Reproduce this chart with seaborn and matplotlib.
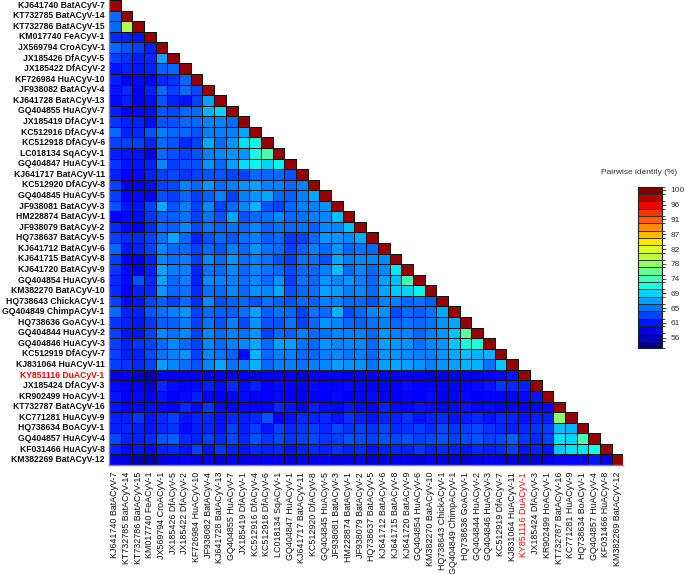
import numpy as np
import pandas as pd
import matplotlib
matplotlib.use("Agg")
import matplotlib.pyplot as plt
import matplotlib.colors as mcolors
import seaborn as sns

# sequence names (rows / columns of the identity matrix)
names = ["KJ641740 BatACyV-7", "KT732785 BatACyV-14", "KT732786 BatACyV-15", "KM017740 FeACyV-1",
         "JX569794 CroACyV-1", "JX185426 DfACyV-5", "JX185422 DfACyV-2", "KF726984 HuACyV-10",
         "JF938082 BatACyV-4", "KJ641728 BatACyV-13", "GQ404855 HuACyV-7", "JX185419 DfACyV-1",
         "KC512916 DfACyV-4", "KC512918 DfACyV-6", "LC018134 SqACyV-1", "GQ404847 HuACyV-1",
         "KJ641717 BatACyV-11", "KC512920 DfACyV-8", "GQ404845 HuACyV-5", "JF938081 BatACyV-3",
         "HM228874 BatACyV-1", "JF938079 BatACyV-2", "HQ738637 BatACyV-5", "KJ641712 BatACyV-6",
         "KJ641715 BatACyV-8", "KJ641720 BatACyV-9", "GQ404854 HuACyV-6", "KM382270 BatACyV-10",
         "HQ738643 ChickACyV-1", "GQ404849 ChimpACyV-1", "HQ738636 GoACyV-1", "GQ404844 HuACyV-2",
         "GQ404846 HuACyV-3", "KC512919 DfACyV-7", "KJ831064 HuACyV-11", "KY851116 DuACyV-1",
         "JX185424 DfACyV-3", "KR902499 HoACyV-1", "KT732787 BatACyV-16", "KC771281 HuACyV-9",
         "HQ738634 BoACyV-1", "GQ404857 HuACyV-4", "KF031466 HuACyV-8", "KM382269 BatACyV-12"]
highlight = "KY851116 DuACyV-1"

# pairwise identity (%), lower triangle, row i holds columns 0..i-1
lower = [
    [],
    [64],
    [64, 80],
    [61, 60.5, 60],
    [64, 63, 62, 60.5],
    [62, 61.5, 60.5, 61, 67],
    [60, 60.5, 60, 60.5, 63.5, 64],
    [60.5, 59, 59.5, 59, 61, 61.5, 64],
    [60, 61, 59, 60.5, 64, 62, 64, 62.5],
    [59.5, 60.5, 59, 59.5, 63, 60.5, 60, 62, 66.5],
    [60.5, 59, 59.5, 59.5, 63, 62.5, 64, 64, 67.5, 69],
    [61.5, 60.5, 60.5, 59.5, 63, 63, 64, 64, 65, 65, 64],
    [64, 60.5, 61, 63, 65, 64, 64, 63, 65, 65, 65, 67],
    [62, 62, 62, 60.5, 64, 63, 61, 62, 67, 64, 66, 69.5, 70.5],
    [60.5, 60, 60, 57.5, 64, 63, 62, 63, 65, 65.5, 66, 66, 71, 74],
    [61.5, 60, 60, 60.5, 65.5, 62, 63, 63, 66, 64, 66.5, 69.5, 70.5, 69, 70.5],
    [60.5, 59, 59.5, 60.5, 62, 62.5, 61.5, 62, 63, 63, 62, 62, 64, 64, 64, 63],
    [62, 57.5, 58.5, 59.5, 62, 62.5, 65, 64, 66, 64, 65, 66, 66.5, 65, 65, 64, 65],
    [62, 59, 59.5, 58.5, 63, 62, 64, 62, 63.5, 65, 62, 65, 66, 67, 64, 63.5, 65, 67],
    [63, 60, 60, 62, 67, 63, 65, 62, 65.5, 62, 64, 65.5, 67.5, 63, 62, 64, 65, 65, 66],
    [59, 59.5, 59.5, 61.5, 63.5, 63.5, 64.5, 62, 64.5, 63, 66.5, 63, 64, 64.5, 65.5, 64, 64.5, 65, 65.5, 68],
    [61, 59.5, 59, 61, 64, 63.5, 65.5, 62.5, 64.5, 63.5, 64.5, 64, 65.5, 63.5, 64.5, 64, 64.5, 63.5, 65.5,
     65.5, 68],
    [62, 61, 61, 62, 64.5, 67, 64, 60.5, 63, 64, 63, 64.5, 65, 63.5, 64, 61.5, 62, 64, 66, 66, 65.5, 67],
    [64, 60, 60.5, 62, 65.5, 64, 64, 62, 64, 63, 65, 64, 66, 64.5, 64, 62, 63.5, 65, 64, 66, 64, 64.5, 64],
    [62, 58.5, 58.5, 60.5, 65.5, 64.5, 65, 62, 65.5, 64, 66, 64.5, 65, 64.5, 63, 62, 64.5, 64.5, 63, 67,
     65, 65.5, 65.5, 65.5],
    [61.5, 59.5, 58, 60.5, 67, 65, 65, 60.5, 64.5, 64, 65.5, 64, 65.5, 64.5, 64, 62.5, 64, 64, 65, 68,
     64, 65.5, 64, 65.5, 70],
    [61, 59.5, 63, 61, 67, 64, 65, 60.5, 65.5, 65, 65, 64.5, 65.5, 64, 66, 62, 64.5, 64, 66, 65.5,
     66, 65, 64, 66.5, 68, 74],
    [61, 59, 60.5, 61, 66, 64, 64.5, 61, 64.5, 64, 65.5, 64, 66, 65.5, 67, 63, 64, 64.5, 66.5, 66.5,
     65, 65.5, 64, 67, 68.5, 69, 70.5],
    [62, 59.5, 60, 62, 63.5, 62, 64, 61, 65.5, 62.5, 63.5, 64, 63, 64.5, 63.5, 63, 64, 63.5, 65, 65,
     64, 64, 63, 65, 65, 64, 64.5, 63.5],
    [64, 60.5, 60.5, 63, 64.5, 65, 66, 62, 64, 63.5, 63.5, 64.5, 66.5, 63.5, 64.5, 64, 62, 64.5, 64, 67.5,
     62.5, 64, 65.5, 66, 62.5, 64, 63.5, 64.5, 67],
    [61.5, 60.5, 60, 61.5, 63.5, 63.5, 65, 62, 64.5, 63, 65, 62.5, 66, 63, 63, 64.5, 62, 64, 66, 65.5,
     64, 63.5, 64.5, 65, 64, 64.5, 64, 64.5, 66, 67],
    [62, 60, 60, 62, 65.5, 64.5, 65.5, 62, 65.5, 64, 65, 64.5, 66, 62, 64, 63.5, 65, 64, 64.5, 65.5,
     65, 65, 64, 66, 65, 65.5, 64, 65, 66, 68, 75],
    [62, 60.5, 61.5, 62, 64, 65.5, 64, 62, 65.5, 64, 65, 65.5, 67, 64, 66.5, 66.5, 64.5, 64, 66, 65.5,
     65.5, 65.5, 64, 66.5, 66, 66, 64.5, 65.5, 66, 68.5, 71, 71.5],
    [62, 60.5, 60.5, 62.5, 64.5, 65, 66, 62, 65.5, 64.5, 63.5, 59.5, 67.5, 64, 65, 65, 64, 64, 65, 65.5,
     64.5, 65, 64, 66, 66, 65.5, 65, 65, 66, 67, 68, 67.5, 67.5],
    [62, 61.5, 61, 62, 66.5, 65.5, 64.5, 63, 65.5, 67, 64.5, 65, 67.5, 64, 65, 65, 64.5, 65, 65.5, 66.5,
     66, 66, 64.5, 66.5, 67, 66.5, 66, 65, 66, 66.5, 67.5, 67.5, 64.5, 68.5],
    [57, 58, 56.5, 55, 58, 58, 57.5, 58, 57.5, 58, 57.5, 58, 57, 58, 57.5, 58, 57, 58, 57.5, 58,
     57.5, 58, 57.5, 58, 58, 57.5, 58, 57, 57.5, 58, 58, 57.5, 58, 58.5, 60],
    [59.5, 57.5, 58.5, 56.5, 61, 59.5, 58.5, 59.5, 60.5, 59.5, 61, 59.5, 60.5, 58.5, 59.5, 59, 58.5, 59.5,
     59, 58.5, 59.5, 59, 58.5, 59, 58.5, 59.5, 59, 58.5, 59, 58.5, 59, 59.5, 60, 61.5, 61, 60.5],
    [60, 58.5, 59.5, 59, 60, 58.5, 59.5, 60.5, 58.5, 58, 58.5, 59.5, 58, 58.5, 59.5, 58.5, 58.5, 59,
     58.5, 59.5, 58.5, 59, 59.5, 58.5, 58, 59, 58.5, 59.5, 58.5, 59, 59.5, 58.5, 59, 58.5, 59, 59.5, 60],
    [60, 58.5, 59.5, 59.5, 59.5, 58.5, 61, 59.5, 61.5, 59.5, 58, 59.5, 59, 58.5, 61, 60, 59, 60.5, 59.5,
     59, 60, 59.5, 58.5, 60.5, 59.5, 59, 60, 59.5, 58.5, 59.5, 60, 59, 59.5, 58.5, 59, 58, 59, 59.5],
    [60.5, 60.5, 61.5, 60, 61, 62, 60, 60.5, 61, 60, 61, 60.5, 61, 63, 58.5, 60, 61, 60.5, 61, 60,
     61.5, 60.5, 60, 61, 60.5, 61.5, 60, 60.5, 61, 60, 60.5, 61, 60, 61, 60.5, 60, 60.5, 60.5, 78],
    [60.5, 61, 60.5, 60, 61, 61.5, 59.5, 60.5, 61, 60, 62, 60.5, 62, 60, 62, 61, 61.5, 62, 61, 62.5,
     61.5, 62, 61.5, 62.5, 61, 61.5, 62, 61, 62.5, 61.5, 62, 62.5, 61.5, 61, 60.5, 61, 61.5, 62, 68, 67.5],
    [62.5, 60.5, 60.5, 61, 63, 63.5, 61, 60.5, 62, 61, 62.5, 61, 63, 61.5, 62.5, 61.5, 62, 62.5, 61.5, 62,
     63, 62.5, 62, 63, 62.5, 63, 62, 62.5, 63, 62, 62.5, 63, 62, 62.5, 63.5, 61.5, 61, 62, 69.5, 69, 74],
    [60.5, 59.5, 60, 59.5, 60.5, 61, 60, 62, 60, 61.5, 60.5, 60, 61, 60.5, 61, 60, 60.5, 61, 60.5, 61.5,
     60.5, 61, 60, 60.5, 61, 60.5, 61.5, 60.5, 61, 60.5, 60, 61, 60.5, 61, 62, 60, 60.5, 60, 68.5, 69.5,
     70, 71],
    [57.5, 57, 55.5, 55, 57, 57.5, 58, 57.5, 58, 57, 58, 57.5, 57, 58, 57.5, 57, 58, 57.5, 58, 57,
     57.5, 58, 57, 57.5, 58, 57.5, 57, 58, 57.5, 57, 56.5, 57.5, 58, 57.5, 57, 56.5, 57, 57.5, 58, 58.5,
     58, 60, 58],
]
self_identity = 100

cbar_ticks = [56, 60.4, 64.8, 69.2, 73.6, 78, 82.4, 86.8, 91.2, 95.6, 100]
cbar_labels = ["56", "61", "65", "69", "74", "78", "82", "87", "91", "96", "100"]

n = len(names)
mat = np.full((n, n), np.nan)
for i, row in enumerate(lower):
    mat[i, :len(row)] = row
    mat[i, i] = self_identity
df = pd.DataFrame(mat, index=names, columns=names)
mask = np.triu(np.ones((n, n), dtype=bool), k=1)

sns.set_style("white")
plt.rcParams["font.family"] = ["Liberation Sans", "DejaVu Sans"]

vmin, vmax = 53, 101
fig = plt.figure(figsize=(6.85, 5.74), dpi=100)
ax = fig.add_axes([0.159, 0.19, 0.751, 0.81])
sns.heatmap(df, mask=mask, cmap="jet", vmin=vmin, vmax=vmax, linewidths=0.7,
            linecolor="#111111", cbar=False, ax=ax,
            xticklabels=names, yticklabels=names)

# no cell borders on the masked (upper) half
mesh = ax.collections[0]
edge = np.zeros((n * n, 4))
edge[:, :3] = 0.07
edge[:, 3] = np.where(mask.ravel(), 0.0, 1.0)
mesh.set_edgecolor(edge)

ax.tick_params(length=0)
ax.tick_params(axis="y", pad=3)
ax.tick_params(axis="x", pad=5)
for lab in ax.get_yticklabels():
    lab.set_fontsize(6.2)
    lab.set_fontweight("bold")
    lab.set_color("red" if lab.get_text() == highlight else "#111111")
for lab in ax.get_xticklabels():
    lab.set_fontsize(6.4)
    lab.set_rotation(90)
    lab.set_color("red" if lab.get_text() == highlight else "#111111")
for side in ["left", "bottom"]:
    ax.spines[side].set_visible(True)
    ax.spines[side].set_color("#888888")
    ax.spines[side].set_linewidth(1)

# discrete colour bar
bounds = np.linspace(vmin, vmax, 23)
cmap_d = plt.get_cmap("jet", 22)
norm_d = mcolors.BoundaryNorm(bounds, cmap_d.N)
cax = fig.add_axes([0.931, 0.394, 0.035, 0.281])
sm = plt.cm.ScalarMappable(norm=norm_d, cmap=cmap_d)
cb = fig.colorbar(sm, cax=cax, boundaries=bounds, drawedges=True)
cb.dividers.set_color("#222222")
cb.dividers.set_linewidth(0.6)
cb.outline.set_edgecolor("#222222")
cb.outline.set_linewidth(0.8)
cb.set_ticks(cbar_ticks)
cb.set_ticklabels(cbar_labels)
cax.tick_params(labelsize=6, length=3, width=0.6, colors="#333333")
fig.text(0.933, 0.70, "Pairwise identity (%)", ha="center", va="center", fontsize=6, color="#333333")

fig.savefig("out.png", dpi=100)
